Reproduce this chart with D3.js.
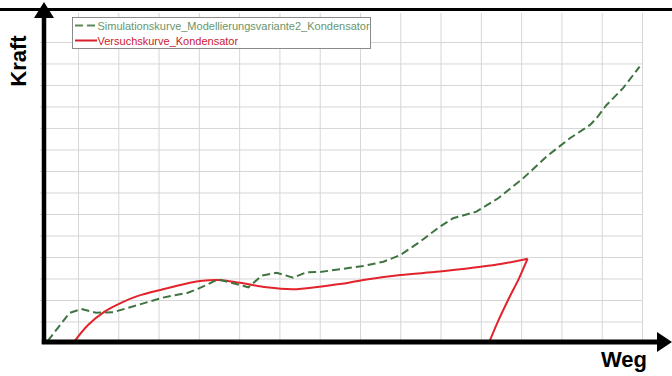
<!DOCTYPE html>
<html>
<head>
<meta charset="utf-8">
<script src="https://cdn.jsdelivr.net/npm/d3@7/dist/d3.min.js"></script>
<style>
html,body{margin:0;padding:0;background:#fff;}
svg{display:block;}
</style>
</head>
<body>
<svg id="chart" width="672" height="376"></svg>
<script>
// ---- data ----
const seriesNames = ["Simulationskurve_Modellierungsvariante2_Kondensator", "Versuchskurve_Kondensator"];
const axisTitles = ["Weg", "Kraft"];

const simX = [0.25,0.79,1.08,1.45,1.87,2.49,3.11,3.73,4.03,4.48,4.85,5.23,5.56,5.93,6.34,6.67,7.00,7.50,8.08,8.58,9.00,9.49,9.98,10.31,10.89,11.43,12.05,12.63,13.21,13.71,13.87,14.12,14.53,14.94];
const simY = [0.10,1.40,1.58,1.41,1.43,1.77,2.11,2.34,2.56,2.96,2.78,2.59,3.13,3.27,3.04,3.29,3.30,3.43,3.58,3.78,4.09,4.71,5.41,5.80,6.11,6.73,7.66,8.67,9.52,10.14,10.45,11.07,11.85,12.85];

const versuchX = [0.88,1.25,1.66,2.07,2.49,3.11,3.73,4.03,4.48,5.02,5.68,6.34,7.00,7.50,8.08,9.00,9.98,10.89,11.49,12.16];
const versuchY = [0.00,0.84,1.46,1.87,2.19,2.50,2.78,2.88,2.93,2.80,2.59,2.50,2.62,2.74,2.93,3.16,3.32,3.52,3.67,3.92];
const rueckX = [12.16,11.95,11.70,11.42,11.20];
const rueckY = [3.92,3.02,2.09,0.98,0.00];

const gridXTicks = [1,2,3,4,5,6,7,8,9,10,11,12,13,14,15];
const gridYTicks = [1,2,3,4,5,6,7,8,9,10,11,12,13,14];

// ---- drawing ----
const svg = d3.select("#chart");
const x = d3.scaleLinear().domain([0, 15]).range([37.7, 642]);
const y = d3.scaleLinear().domain([0, 15.3]).range([343, 14]);

const gridColor = "#d6d6d6";
// vertical grid
const gx = svg.append("g").attr("transform", "translate(0,343)")
  .call(d3.axisBottom(x).tickValues(gridXTicks).tickSize(-(343 - 13)).tickFormat(""));
gx.select(".domain").remove();
gx.selectAll(".tick line").attr("stroke", gridColor).attr("stroke-width", 1);
// horizontal grid
const gy = svg.append("g").attr("transform", "translate(642,0)")
  .call(d3.axisLeft(y).tickValues(gridYTicks).tickSize(642 - 40).tickFormat(""));
gy.select(".domain").remove();
gy.selectAll(".tick line").attr("stroke", gridColor).attr("stroke-width", 1);

// red measured curve
const vData = versuchX.map((v, i) => [v, versuchY[i]]);
const rData = rueckX.map((v, i) => [v, rueckY[i]]);
const smooth = d3.line().x(d => x(d[0])).y(d => y(d[1])).curve(d3.curveCatmullRom.alpha(0.5));
svg.append("path").datum(vData).attr("d", smooth)
  .attr("fill", "none").attr("stroke", "#e2232b").attr("stroke-width", 2);
svg.append("path").datum(rData).attr("d", smooth)
  .attr("fill", "none").attr("stroke", "#e2232b").attr("stroke-width", 2);

// green dashed simulated curve
const sData = simX.map((v, i) => [v, simY[i]]);
svg.append("path").datum(sData)
  .attr("d", d3.line().x(d => x(d[0])).y(d => y(d[1])))
  .attr("fill", "none").attr("stroke", "#3f7440").attr("stroke-width", 2)
  .attr("stroke-dasharray", "8,4");

// legend
const lg = svg.append("g");
lg.append("rect").attr("x", 72.5).attr("y", 17.5).attr("width", 298).attr("height", 31)
  .attr("fill", "#fff").attr("stroke", "#8a8a8a").attr("stroke-width", 1);
lg.append("line").attr("x1", 75).attr("x2", 97).attr("y1", 25.5).attr("y2", 25.5)
  .attr("stroke", "#5a8a5a").attr("stroke-width", 2).attr("stroke-dasharray", "8,4");
lg.append("line").attr("x1", 75).attr("x2", 97).attr("y1", 40.5).attr("y2", 40.5)
  .attr("stroke", "#d8202c").attr("stroke-width", 2);
lg.append("text").attr("x", 97.5).attr("y", 29.5).text(seriesNames[0])
  .attr("font-family", "Liberation Sans, Arial, sans-serif").attr("font-size", 11).attr("fill", "#6a956a");
lg.append("text").attr("x", 97.5).attr("y", 44.5).text(seriesNames[1])
  .attr("font-family", "Liberation Sans, Arial, sans-serif").attr("font-size", 11).attr("fill", "#cc2030");

// frame lines & arrows
svg.append("line").attr("x1", 0).attr("x2", 672).attr("y1", 9.5).attr("y2", 9.5)
  .attr("stroke", "#000").attr("stroke-width", 3);
svg.append("line").attr("x1", 44).attr("x2", 44).attr("y1", 344).attr("y2", 14)
  .attr("stroke", "#000").attr("stroke-width", 4.5);
svg.append("path").attr("d", "M44,2 L34,18 L54,18 Z").attr("fill", "#000");
svg.append("line").attr("x1", 41.8).attr("x2", 662).attr("y1", 342).attr("y2", 342)
  .attr("stroke", "#000").attr("stroke-width", 5);
svg.append("path").attr("d", "M672,342 L657,332 L657,352 Z").attr("fill", "#000");

// axis titles
svg.append("text").attr("x", 647).attr("y", 367).attr("text-anchor", "end")
  .attr("font-family", "Liberation Sans, Arial, sans-serif").attr("font-weight", "bold")
  .attr("font-size", 22).text(axisTitles[0]);
svg.append("text").attr("transform", "translate(26,61) rotate(-90)").attr("text-anchor", "middle")
  .attr("font-family", "Liberation Sans, Arial, sans-serif").attr("font-weight", "bold")
  .attr("font-size", 22).text(axisTitles[1]);
</script>
</body>
</html>
